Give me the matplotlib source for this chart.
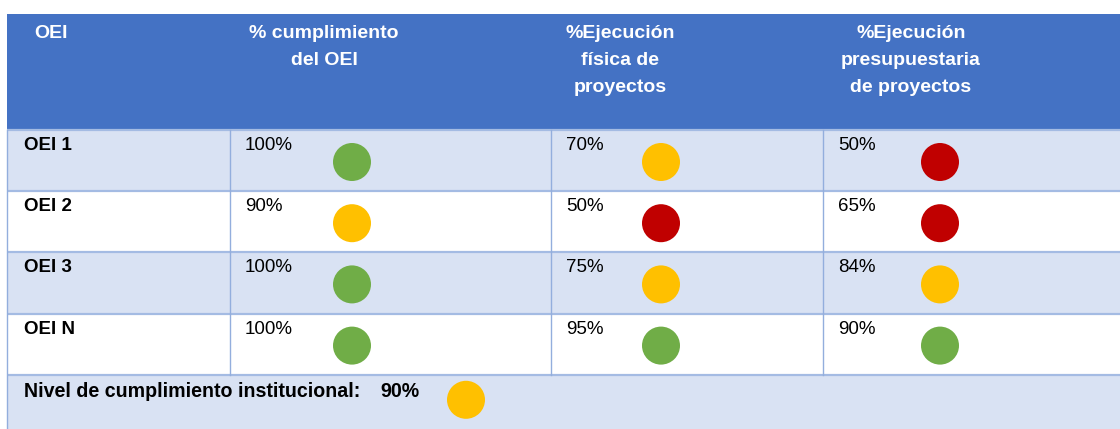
import matplotlib
matplotlib.use("Agg")
import matplotlib.pyplot as plt
from matplotlib.patches import Rectangle, Circle
from matplotlib import font_manager

# ---- data ----
header_labels = ["OEI", "% cumplimiento\ndel OEI", "%Ejecución\nfísica de\nproyectos",
                 "%Ejecución\npresupuestaria\nde proyectos"]
oei_labels = ["OEI 1", "OEI 2", "OEI 3", "OEI N"]
cumplimiento_oei = [100, 90, 100, 100]
ejecucion_fisica = [70, 50, 75, 95]
ejecucion_presupuestaria = [50, 65, 84, 90]
estado_cumplimiento = ["verde", "amarillo", "verde", "verde"]
estado_fisica = ["amarillo", "rojo", "amarillo", "verde"]
estado_presupuestaria = ["rojo", "rojo", "amarillo", "verde"]
nivel_label = "Nivel de cumplimiento institucional:"
nivel_institucional = 90
estado_nivel = "amarillo"

semaforo = {"verde": "#70AD47", "amarillo": "#FFC000", "rojo": "#C00000"}

font = "Liberation Sans"
try:
    font_manager.findfont(font_manager.FontProperties(family="Liberation Sans Narrow"),
                          fallback_to_default=False)
    head_font, head_size = "Liberation Sans Narrow", 17
except Exception:
    head_font, head_size = "Liberation Sans", 14

# ---- layout (pixels) ----
W, H = 1120, 429
fig = plt.figure(figsize=(W / 100, H / 100), dpi=100)
ax = fig.add_axes([0, 0, 1, 1])
ax.set_xlim(0, W)
ax.set_ylim(H, 0)
ax.axis("off")

left, right = 7, W
col_x = [left, 230, 551, 823, right]
header_top, header_bot = 14, 130
row_h = 61.2
row_tops = [header_bot + i * row_h for i in range(len(oei_labels) + 1)]

head_blue = "#4472C4"
light = "#D9E2F3"
line_c = "#A4BBE3"
vline_c = "#93AEDD"

# header
ax.add_patch(Rectangle((left, header_top), right - left, header_bot - header_top,
                       facecolor=head_blue, edgecolor="none"))
head_cx = [51, 324, 620, 911]
for cx, lab in zip(head_cx, header_labels):
    for k, line in enumerate(lab.split("\n")):
        ax.text(cx, 38 + 27 * k, line, ha="center", va="baseline", color="white",
                fontsize=head_size, fontweight="bold", family=head_font)

# body rows
for i in range(len(oei_labels) + 1):
    top = row_tops[i]
    bot = row_tops[i + 1] if i < len(oei_labels) else H
    fc = light if i % 2 == 0 else "white"
    ax.add_patch(Rectangle((left, top), right - left, bot - top, facecolor=fc, edgecolor="none"))

# grid lines
for y in row_tops:
    ax.plot([left, right], [y, y], color=line_c, lw=1.6, solid_capstyle="butt")
for x in col_x[1:4]:
    ax.plot([x, x], [header_bot, row_tops[len(oei_labels)]], color=vline_c, lw=1.0)
ax.plot([left, left], [header_bot, H], color=vline_c, lw=1.0)

cols = [(cumplimiento_oei, estado_cumplimiento),
        (ejecucion_fisica, estado_fisica),
        (ejecucion_presupuestaria, estado_presupuestaria)]
circle_dx = [122, 110, 117]
for i, lab in enumerate(oei_labels):
    top = row_tops[i]
    ax.text(24, top + 20, lab, ha="left", va="baseline", fontsize=13.5, fontweight="bold",
            family=font, color="black")
    for j, (vals, est) in enumerate(cols):
        x0 = col_x[j + 1]
        ax.text(x0 + 15, top + 20, f"{vals[i]}%", ha="left", va="baseline", fontsize=13.5,
                family=font, color="black")
        ax.add_patch(Circle((x0 + circle_dx[j], top + 32), 19, facecolor=semaforo[est[i]],
                            edgecolor="none"))

# footer
ftop = row_tops[len(oei_labels)]
ax.text(24, ftop + 22, nivel_label, ha="left", va="baseline",
        fontsize=14.1, fontweight="bold", family=font, color="black")
ax.text(380, ftop + 22, f"{nivel_institucional}%", ha="left", va="baseline",
        fontsize=14.1, fontweight="bold", family=font, color="black")
ax.add_patch(Circle((466, ftop + 25), 19, facecolor=semaforo[estado_nivel], edgecolor="none"))

fig.savefig("out.png", dpi=100)
